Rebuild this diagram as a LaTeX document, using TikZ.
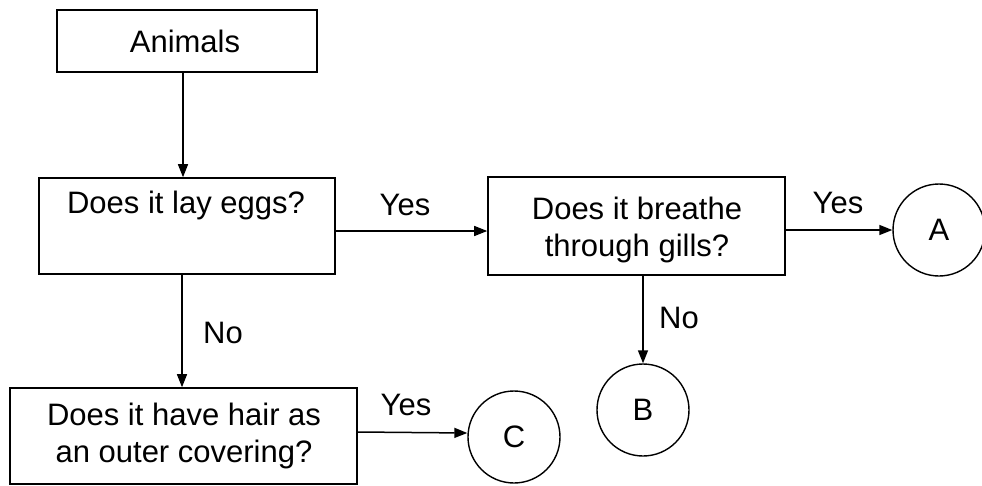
\documentclass[tikz,border=0pt]{standalone}
\usepackage{fontspec}
\setmainfont{Liberation Sans}
\usetikzlibrary{arrows.meta}
\tikzset{
  box/.style={draw, line width=1.6pt, inner sep=0pt},
  circ/.style={draw, circle, line width=1.4pt, minimum size=92pt, inner sep=0pt},
  txt/.style={align=center, inner sep=0pt, font=\fontsize{31}{37}\selectfont},
  arr/.style={line width=1.5pt, -{Triangle[length=13pt,width=10pt]}},
}
\begin{document}
\begin{tikzpicture}[x=1pt,y=-1pt]
\useasboundingbox (0,0) rectangle (982,485);
% boxes
\node[box, minimum width=260pt, minimum height=62pt] (animals) at (187,41) {};
\node[txt] (tanimals) at (185,41) {Animals};
\node[box, minimum width=296pt, minimum height=96pt] (eggs) at (187,226) {};
\node[txt] (teggs) at (186,205) {Does it lay eggs?};
\node[box, minimum width=297pt, minimum height=98pt] (gills) at (636.5,226) {};
\node[txt] (tgills) at (637,230) {Does it breathe\\through gills?};
\node[box, minimum width=347pt, minimum height=96pt] (hair) at (183.5,436) {};
\node[txt] (thair) at (184,436) {Does it have hair as\\an outer covering?};
% circles
\node[circ] (A) at (939,230) {};
\node[txt] (tA) at (939,230) {A};
\node[circ] (B) at (643,410) {};
\node[txt] (tB) at (643,410) {B};
\node[circ] (C) at (514,437) {};
\node[txt] (tC) at (514,437) {C};
% labels
\node[txt] (yes1) at (405,205) {Yes};
\node[txt] (yes2) at (838,203) {Yes};
\node[txt] (yes3) at (406,405) {Yes};
\node[txt] (no1) at (223,333) {No};
\node[txt] (no2) at (679,318) {No};
% connectors
\draw[arr] ([xshift=-4pt]animals.south) -- ([xshift=-4pt]eggs.north);
\draw[arr] ([xshift=-5pt]eggs.south) -- ([xshift=-5pt]eggs.south |- hair.north);
\draw[arr] ([yshift=-5pt]eggs.east) -- ([yshift=-5pt]gills.west);
\draw[arr] (gills.east |- A.center) -- (A.west);
\draw[arr] (B.north |- gills.south) -- (B.north);
\draw[arr] ([yshift=4pt]hair.east) -- ([yshift=4pt]C.west);
\end{tikzpicture}
\end{document}
